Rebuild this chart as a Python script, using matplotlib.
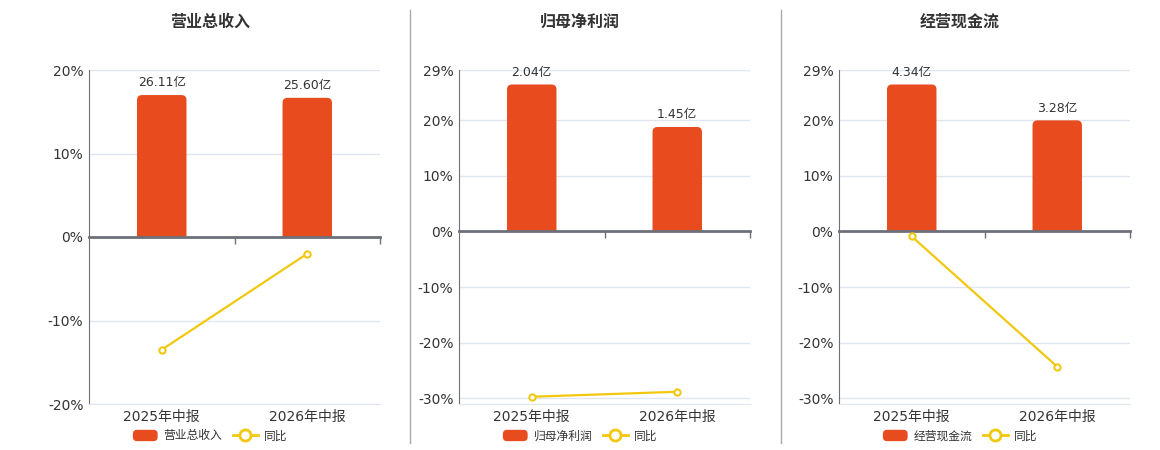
import matplotlib
matplotlib.use('Agg')
import matplotlib.pyplot as plt
from matplotlib.patches import Patch, FancyBboxPatch, Rectangle, BoxStyle
from matplotlib.lines import Line2D
from matplotlib.markers import TICKDOWN
from matplotlib.legend_handler import HandlerPatch

plt.rcParams['font.family'] = ['DejaVu Sans', 'Noto Sans CJK SC']
plt.rcParams['axes.unicode_minus'] = False

categories = ['2025年中报', '2026年中报']
titles = ['营业总收入', '归母净利润', '经营现金流']
bar_values = [
    [26.11, 25.60],
    [2.04, 1.45],
    [4.34, 3.28],
]
yoy_values = [
    [-13.5, -2.0],
    [-29.7, -28.8],
    [-0.9, -24.3],
]
y_limits = [(-20, 20), (-31, 29), (-31, 29)]
y_ticks = [
    [-20, -10, 0, 10, 20],
    [-30, -20, -10, 0, 10, 20, 29],
    [-30, -20, -10, 0, 10, 20, 29],
]
# percent level reached by the tallest bar in each panel
bar_top_pct = [17.0, 26.4, 26.4]

BAR_COLOR = '#E84C1E'
LINE_COLOR = '#F2C80F'
AXIS_COLOR = '#6E7079'
GRID_COLOR = '#E0E6F1'
TEXT_COLOR = '#333333'

W, H = 1160, 450
fig = plt.figure(figsize=(W / 100, H / 100), dpi=100)

ax_left_px = [89, 459, 839]
ax_w_px = 291
ax_top_px, ax_bot_px = 70, 404
panel_center_px = [210, 580, 960]


def rounded_patch(legend, orig_handle, xdescent, ydescent, width, height, fontsize):
    return FancyBboxPatch((-xdescent, -ydescent), width, height,
                          boxstyle='round,pad=0,rounding_size=3')


def draw_panel(i):
    left = ax_left_px[i] / W
    bottom = 1 - ax_bot_px / H
    height = (ax_bot_px - ax_top_px) / H
    ax = fig.add_axes([left, bottom, ax_w_px / W, height])
    ylo, yhi = y_limits[i]
    ax.set_xlim(-0.5, 1.5)
    ax.set_ylim(ylo, yhi)
    ax.set_yticks(y_ticks[i])
    ax.set_yticklabels([f'{t}%' for t in y_ticks[i]])
    ax.yaxis.grid(True, color=GRID_COLOR, lw=1)
    ax.set_axisbelow(True)
    ax.tick_params(axis='y', length=0, labelsize=10, labelcolor=TEXT_COLOR, pad=4)
    ax.set_xticks(range(len(categories)))
    ax.set_xticklabels(categories)
    ax.tick_params(axis='x', length=0, labelsize=10, labelcolor=TEXT_COLOR, pad=4)
    for s in ['top', 'right']:
        ax.spines[s].set_visible(False)
    ax.spines['left'].set_color(AXIS_COLOR)
    ax.spines['bottom'].set_color(GRID_COLOR)

    # bars on a hidden twin axis with zero aligned
    ax2 = ax.twinx()
    k = max(bar_values[i]) / bar_top_pct[i]
    ax2.set_ylim(ylo * k, yhi * k)
    ax2.set_xlim(-0.5, 1.5)
    ax2.axis('off')
    bars = ax2.bar(range(len(categories)), bar_values[i], width=0.34, color=BAR_COLOR)
    x_per_px = 2.0 / ax_w_px
    y_per_px = (yhi - ylo) * k / (ax_bot_px - ax_top_px)
    r = 5 * x_per_px
    clip = Rectangle((-0.5, 0), 2, yhi * k, transform=ax2.transData, visible=False)
    ax2.add_patch(clip)
    for rect, v in zip(bars, bar_values[i]):
        rect.set_visible(False)
        x0, w = rect.get_x(), rect.get_width()
        fb = FancyBboxPatch((x0, -10 * y_per_px), w, v + 10 * y_per_px,
                            boxstyle=BoxStyle.Round(pad=0, rounding_size=r),
                            mutation_aspect=y_per_px / x_per_px,
                            facecolor=BAR_COLOR, edgecolor='none')
        ax2.add_patch(fb)
        fb.set_clip_path(clip)
        ax2.annotate(f'{v:.2f}亿', (x0 + w / 2, v), xytext=(0, 4),
                     textcoords='offset points', ha='center', va='bottom',
                     fontsize=9, color=TEXT_COLOR)

    # yoy line on another twin axis sharing percent scale
    ax3 = ax.twinx()
    ax3.set_ylim(ylo, yhi)
    ax3.set_xlim(-0.5, 1.5)
    ax3.axis('off')
    ax3.axhline(0, color=AXIS_COLOR, lw=2, clip_on=False)
    ax3.plot([0.5, 1.5], [0, 0], ls='none', marker=TICKDOWN, ms=5, mew=1,
             color=AXIS_COLOR, clip_on=False)
    ax3.plot(range(len(categories)), yoy_values[i], color=LINE_COLOR, lw=1.6,
             marker='o', ms=4.5, mfc='white', mec=LINE_COLOR, mew=1.5, clip_on=False)

    fig.text(panel_center_px[i] / W, 1 - 22 / H, titles[i], ha='center', va='center',
             fontsize=11.5, fontweight='bold', color=TEXT_COLOR)

    bar_handle = Patch(facecolor=BAR_COLOR, edgecolor='none')
    handles = [
        bar_handle,
        Line2D([], [], color=LINE_COLOR, lw=2, marker='o', ms=8, mfc='white',
               mec=LINE_COLOR, mew=2),
    ]
    fig.legend(handles, [titles[i], '同比'], loc='center',
               bbox_to_anchor=(panel_center_px[i] / W, 1 - 436 / H), ncol=2,
               frameon=False, fontsize=8.5, handlelength=2.1, handleheight=1.1,
               handletextpad=0.5, columnspacing=0.9, labelcolor='#333333',
               handler_map={bar_handle: HandlerPatch(patch_func=rounded_patch)})


for i in range(3):
    draw_panel(i)

for xpx in [410, 781]:
    fig.add_artist(Line2D([xpx / W, xpx / W], [1 - 10 / H, 1 - 443 / H],
                          color='#AAAAAA', lw=1))

fig.savefig('out.png', dpi=100)
